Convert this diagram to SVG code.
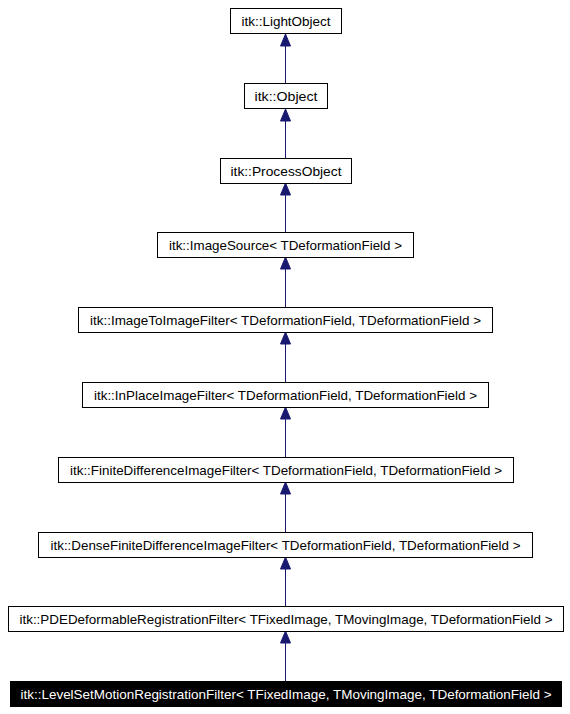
<svg xmlns="http://www.w3.org/2000/svg" width="570" height="714" viewBox="0 0 570 714">
<style>
.box{fill:#ffffff;stroke:#000000;stroke-width:1}
.sel{fill:#000000;stroke:#000000;stroke-width:1}
.lbl{font-family:"Liberation Sans",Arial,sans-serif;font-size:13.33px;fill:#000000;text-anchor:middle}
.lblw{font-family:"Liberation Sans",Arial,sans-serif;font-size:13.33px;fill:#ffffff;text-anchor:middle}
.edge{stroke:#191970;stroke-width:1;fill:none}
.head{fill:#191970;stroke:#191970;stroke-width:1}
</style>
<rect width="570" height="714" fill="#ffffff"/>
<g id="connectors">
<line class="edge" x1="285.5" y1="46" x2="285.5" y2="83"/>
<polygon class="head" points="285.5,34 280.5,46 290.5,46"/>
<line class="edge" x1="285.5" y1="121" x2="285.5" y2="158"/>
<polygon class="head" points="285.5,109 280.5,121 290.5,121"/>
<line class="edge" x1="285.5" y1="195" x2="285.5" y2="232"/>
<polygon class="head" points="285.5,183 280.5,195 290.5,195"/>
<line class="edge" x1="285.5" y1="269" x2="285.5" y2="307"/>
<polygon class="head" points="285.5,257 280.5,269 290.5,269"/>
<line class="edge" x1="285.5" y1="344" x2="285.5" y2="382"/>
<polygon class="head" points="285.5,332 280.5,344 290.5,344"/>
<line class="edge" x1="285.5" y1="419" x2="285.5" y2="457"/>
<polygon class="head" points="285.5,407 280.5,419 290.5,419"/>
<line class="edge" x1="285.5" y1="494" x2="285.5" y2="532"/>
<polygon class="head" points="285.5,482 280.5,494 290.5,494"/>
<line class="edge" x1="285.5" y1="569" x2="285.5" y2="606"/>
<polygon class="head" points="285.5,557 280.5,569 290.5,569"/>
<line class="edge" x1="285.5" y1="643" x2="285.5" y2="681"/>
<polygon class="head" points="285.5,631 280.5,643 290.5,643"/>
</g>
<g id="n1"><rect class="box" x="230.5" y="8.5" width="111" height="25"/><text class="lbl" x="286" y="25.5" textLength="89" lengthAdjust="spacingAndGlyphs">itk::LightObject</text></g>
<g id="n2"><rect class="box" x="244.5" y="83.5" width="83" height="25"/><text class="lbl" x="286" y="100.5" textLength="63" lengthAdjust="spacingAndGlyphs">itk::Object</text></g>
<g id="n3"><rect class="box" x="220.5" y="158.5" width="131" height="25"/><text class="lbl" x="286" y="175.5" textLength="111" lengthAdjust="spacingAndGlyphs">itk::ProcessObject</text></g>
<g id="n4"><rect class="box" x="157.5" y="232.5" width="256" height="25"/><text class="lbl" x="285.5" y="249.5" textLength="233" lengthAdjust="spacingAndGlyphs">itk::ImageSource&lt; TDeformationField &gt;</text></g>
<g id="n5"><rect class="box" x="78.5" y="307.5" width="414" height="25"/><text class="lbl" x="285.5" y="324.5" textLength="391" lengthAdjust="spacingAndGlyphs">itk::ImageToImageFilter&lt; TDeformationField, TDeformationField &gt;</text></g>
<g id="n6"><rect class="box" x="82.5" y="382.5" width="406" height="25"/><text class="lbl" x="285.5" y="399.5" textLength="383" lengthAdjust="spacingAndGlyphs">itk::InPlaceImageFilter&lt; TDeformationField, TDeformationField &gt;</text></g>
<g id="n7"><rect class="box" x="58.5" y="457.5" width="455" height="25"/><text class="lbl" x="286" y="474.5" textLength="432" lengthAdjust="spacingAndGlyphs">itk::FiniteDifferenceImageFilter&lt; TDeformationField, TDeformationField &gt;</text></g>
<g id="n8"><rect class="box" x="38.5" y="532.5" width="494" height="25"/><text class="lbl" x="285.5" y="549.5" textLength="470" lengthAdjust="spacingAndGlyphs">itk::DenseFiniteDifferenceImageFilter&lt; TDeformationField, TDeformationField &gt;</text></g>
<g id="n9"><rect class="box" x="8.5" y="606.5" width="555" height="25"/><text class="lbl" x="286" y="623.5" textLength="533" lengthAdjust="spacingAndGlyphs">itk::PDEDeformableRegistrationFilter&lt; TFixedImage, TMovingImage, TDeformationField &gt;</text></g>
<g id="n10"><rect class="sel" x="10.5" y="681.5" width="551" height="25"/><text class="lblw" x="286" y="698.5" textLength="531" lengthAdjust="spacingAndGlyphs">itk::LevelSetMotionRegistrationFilter&lt; TFixedImage, TMovingImage, TDeformationField &gt;</text></g>
</svg>
